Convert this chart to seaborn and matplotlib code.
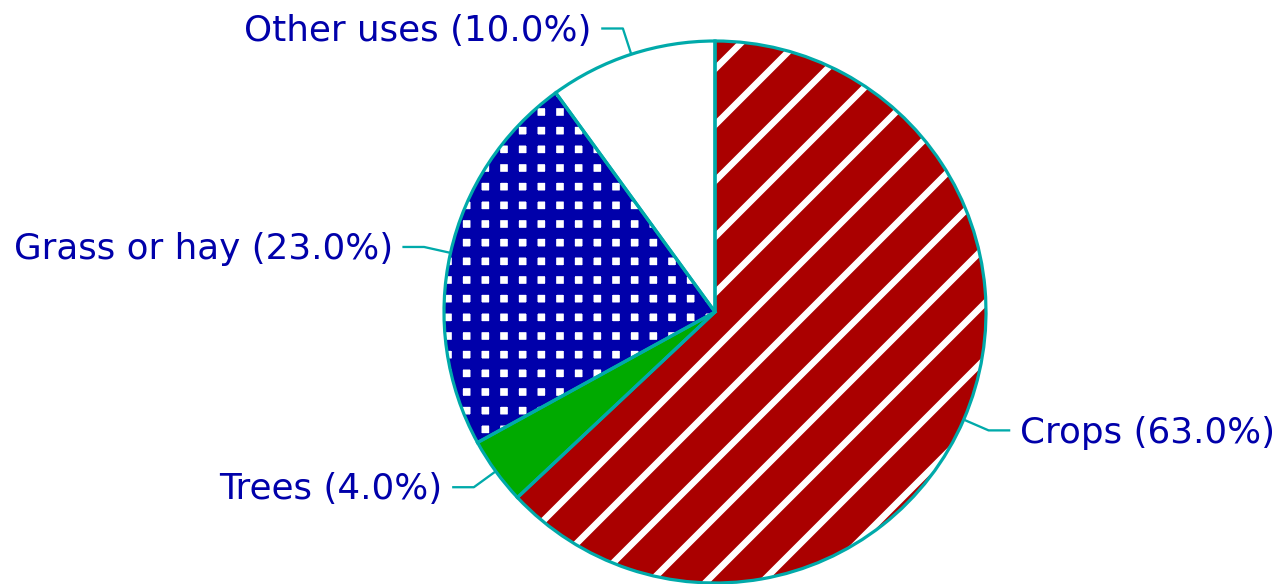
import numpy as np
import matplotlib
matplotlib.use("Agg")
import matplotlib.pyplot as plt
import seaborn as sns

# ---- data ----
labels = ["Crops", "Trees", "Grass or hay", "Other uses"]
shares = [63.0, 4.0, 23.0, 10.0]

# ---- styling (EGA-like palette) ----
# hatch colour follows the wedge edgecolor
face_colors = ["#AA0000", "#00AA00", "#FFFFFF", "#FFFFFF"]
hatch_colors = ["#FFFFFF", "#00AA00", "#0000AA", "#FFFFFF"]
hatches = ["//", None, "+++", None]
hatch_widths_px = [6.5, 0, 11, 0]
edge_color = "#00AAAA"
text_color = "#0000AA"

sns.set_theme(style="white")
plt.rcParams["font.family"] = ["DejaVu Sans"]

# high dpi so the hatch tile (72 pt) gives the wanted stripe spacing
DPI = 336
W, H = 1283, 584
PX = 72.0 / DPI  # one pixel in points

fig = plt.figure(figsize=(W / DPI, H / DPI), dpi=DPI)
ax = fig.add_axes([0, 0, 1, 1])

wedges, _ = ax.pie(shares, colors=face_colors, startangle=90,
                   counterclock=False, radius=1,
                   wedgeprops=dict(linewidth=0))
for w, hc, h, hw in zip(wedges, hatch_colors, hatches, hatch_widths_px):
    w.set_edgecolor(hc)
    w.set_linewidth(0)
    if h:
        w.set_hatch(h)
        if hasattr(w, "set_hatch_linewidth"):
            w.set_hatch_linewidth(hw * PX)
        else:
            w._hatch_linewidth = hw * PX

# outlines on top
ax.pie(shares, colors=["none"] * len(shares), startangle=90,
       counterclock=False, radius=1,
       wedgeprops=dict(edgecolor=edge_color, linewidth=3.2 * PX))

# labels with elbow leader lines
for w, lab, val in zip(wedges, labels, shares):
    ang = np.deg2rad((w.theta1 + w.theta2) / 2)
    x0, y0 = np.cos(ang), np.sin(ang)
    x1, y1 = 1.1 * x0, 1.1 * y0
    side = 1 if x0 > 0 else -1
    x2 = x1 + side * 0.08
    ax.plot([x0, x1, x2], [y0, y1, y1], color=edge_color,
            lw=2.3 * PX, solid_capstyle="butt")
    ax.text(x2 + side * 0.035, y1 - 0.008, f"{lab} ({val:.1f}%)",
            ha="left" if side > 0 else "right", va="center",
            color=text_color, fontsize=35.8 * PX)

# pie centre / radius in pixels (pie() resets the limits, so set them last)
cx, cy, R = 715, 312, 271
ax.set_xlim(-cx / R, (W - cx) / R)
ax.set_ylim(-(H - cy) / R, cy / R)
ax.set_aspect("equal", adjustable="datalim")
ax.axis("off")

fig.savefig("out.png", dpi=DPI, facecolor="white")
